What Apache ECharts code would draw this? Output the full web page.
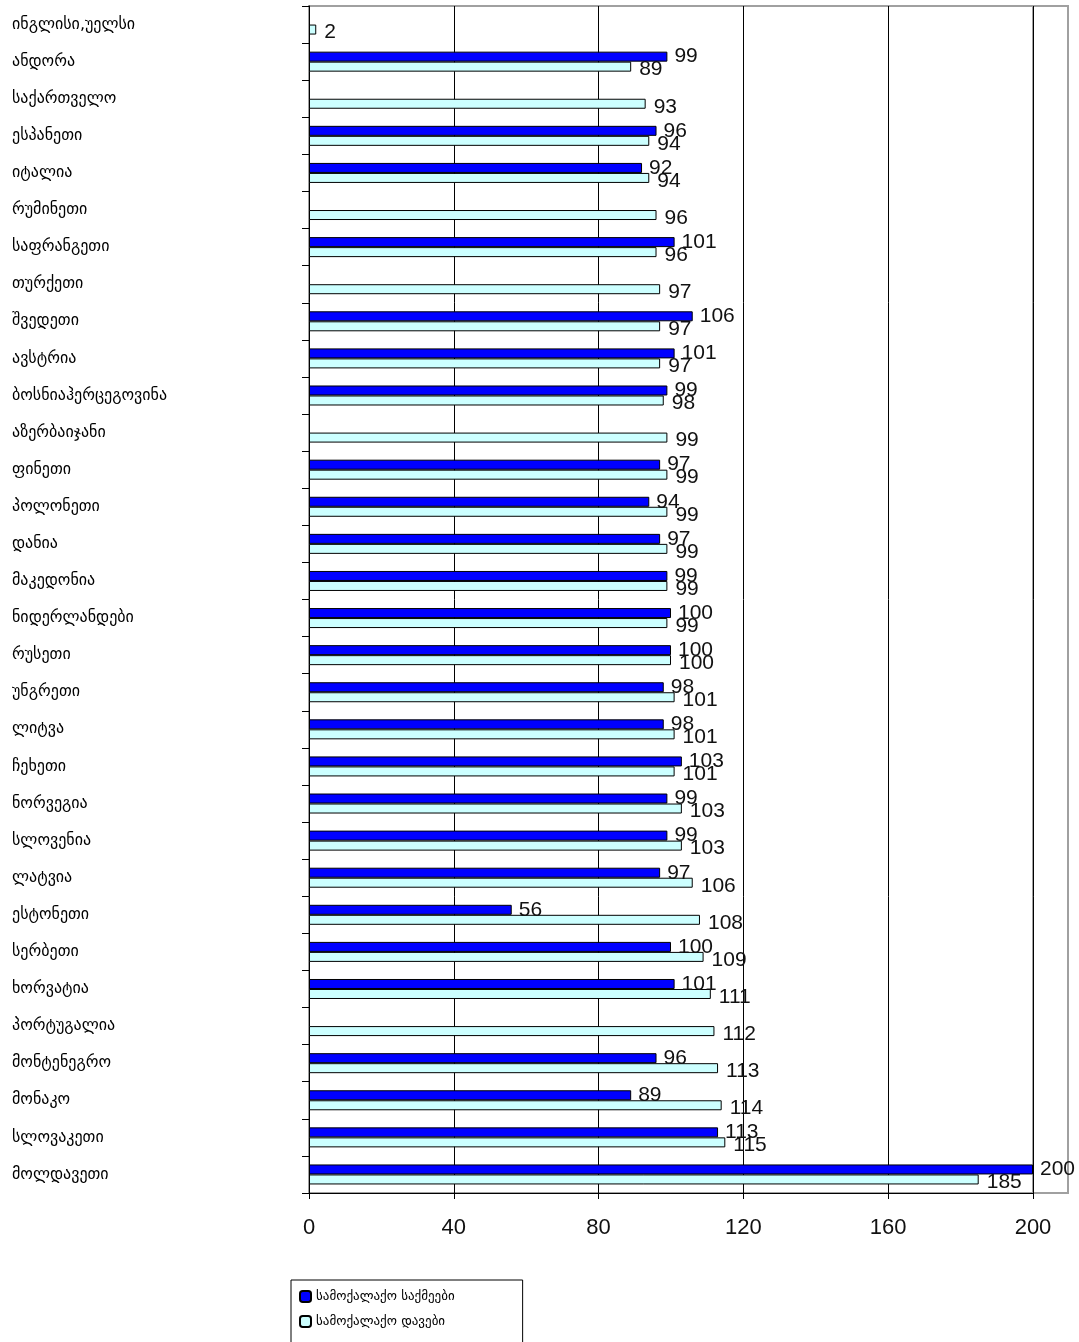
<!DOCTYPE html>
<html>
<head>
<meta charset="utf-8">
<script src="https://cdn.jsdelivr.net/npm/echarts@6/dist/echarts.min.js"></script>
<style>
  html, body { margin: 0; padding: 0; background: #fff; }
  #chart { width: 1079px; height: 1342px; }
</style>
</head>
<body>
<div id="chart"></div>
<script>
// country names, top to bottom
const countries = [
  'ინგლისი,უელსი', 'ანდორა', 'საქართველო', 'ესპანეთი', 'იტალია', 'რუმინეთი',
  'საფრანგეთი', 'თურქეთი', 'შვედეთი', 'ავსტრია', 'ბოსნიაჰერცეგოვინა', 'აზერბაიჯანი',
  'ფინეთი', 'პოლონეთი', 'დანია', 'მაკედონია', 'ნიდერლანდები', 'რუსეთი',
  'უნგრეთი', 'ლიტვა', 'ჩეხეთი', 'ნორვეგია', 'სლოვენია', 'ლატვია',
  'ესტონეთი', 'სერბეთი', 'ხორვატია', 'პორტუგალია', 'მონტენეგრო', 'მონაკო',
  'სლოვაკეთი', 'მოლდავეთი'
]
// სამოქალაქო საქმეები (null = no bar)
const civilCases = [
  null, 99, null, 96, 92, null,
  101, null, 106, 101, 99, null,
  97, 94, 97, 99, 100, 100,
  98, 98, 103, 99, 99, 97,
  56, 100, 101, null, 96, 89,
  113, 200
]
// სამოქალაქო დავები
const civilDisputes = [
  2, 89, 93, 94, 94, 96,
  96, 97, 97, 97, 98, 99,
  99, 99, 99, 99, 99, 100,
  101, 101, 101, 103, 103, 106,
  108, 109, 111, 112, 113, 114,
  115, 185
]
const seriesNames = ['სამოქალაქო საქმეები', 'სამოქალაქო დავები']
const xMax = 200
const xStep = 40

const numFont = 'Liberation Sans, Arial, sans-serif'
const geoFont = 'DejaVu Sans, sans-serif'

const chart = echarts.init(document.getElementById('chart'))
chart.setOption({
  backgroundColor: '#fff',
  animation: false,
  grid: {
    left: 309,
    top: 6,
    right: 46,
    bottom: 149,
    show: true,
    borderColor: '#a0a0a0',
    borderWidth: 2,
    backgroundColor: 'transparent'
  },
  // the plot frame runs a little past the 200 gridline
  graphic: [
    {
      type: 'polyline',
      silent: true,
      z: 0,
      shape: { points: [[1033, 6], [1068, 6], [1068, 1193], [1033, 1193]] },
      style: { stroke: '#a0a0a0', lineWidth: 2, fill: null }
    }
  ],
  legend: {
    orient: 'vertical',
    left: 291,
    top: 1280,
    height: 200,
    data: seriesNames,
    itemWidth: 11,
    itemHeight: 11,
    itemGap: 12,
    padding: [10, 68, 30, 8],
    borderColor: '#000',
    borderWidth: 1,
    backgroundColor: '#fff',
    textStyle: {
      fontFamily: geoFont,
      fontSize: 13,
      color: '#000'
    }
  },
  xAxis: {
    type: 'value',
    min: 0,
    max: xMax,
    interval: xStep,
    axisLine: { show: true, lineStyle: { color: '#000', width: 1 } },
    axisTick: { show: true, length: 6, lineStyle: { color: '#000' } },
    axisLabel: {
      margin: 24,
      fontFamily: numFont,
      fontSize: 22,
      color: '#111'
    },
    splitLine: {
      show: true,
      showMinLine: false,
      showMaxLine: true,
      lineStyle: { color: '#000', width: 1 }
    }
  },
  yAxis: {
    type: 'category',
    inverse: true,
    data: countries,
    axisLine: { show: true, lineStyle: { color: '#000', width: 1 } },
    axisTick: { show: true, length: 7, lineStyle: { color: '#000' } },
    axisLabel: {
      align: 'left',
      margin: 297,
      interval: 0,
      fontFamily: geoFont,
      fontSize: 16,
      color: '#000'
    },
    splitLine: { show: false }
  },
  series: [
    {
      name: seriesNames[0],
      type: 'bar',
      data: civilCases,
      barWidth: 10,
      barGap: '0%',
      itemStyle: { color: '#0000ff', borderColor: '#000', borderWidth: 1 },
      label: {
        show: true,
        position: 'right',
        distance: 7,
        fontFamily: numFont,
        fontSize: 21,
        color: '#111'
      }
    },
    {
      name: seriesNames[1],
      type: 'bar',
      data: civilDisputes,
      barWidth: 10,
      barGap: '0%',
      itemStyle: { color: '#ccffff', borderColor: '#000', borderWidth: 1 },
      label: {
        show: true,
        position: 'right',
        distance: 8,
        offset: [0, 3],
        fontFamily: numFont,
        fontSize: 21,
        color: '#111'
      }
    }
  ]
})
</script>
</body>
</html>
